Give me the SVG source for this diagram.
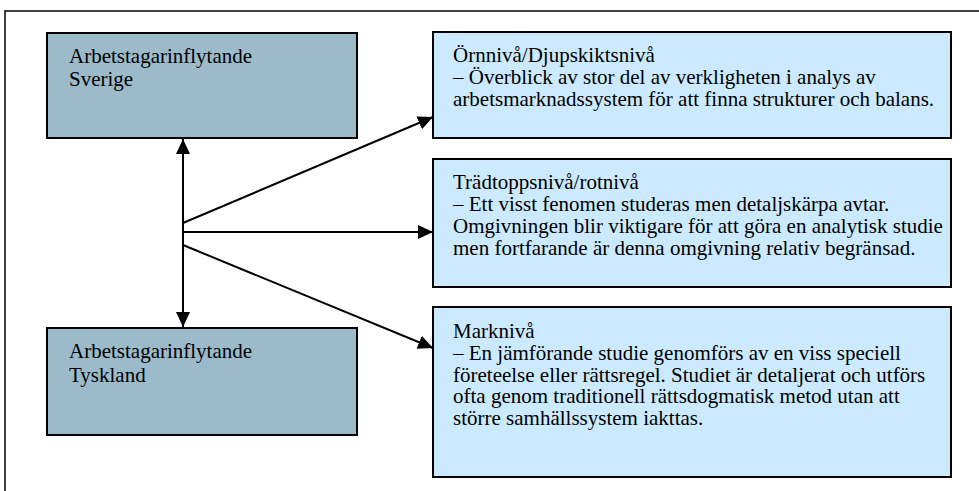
<svg xmlns="http://www.w3.org/2000/svg" width="979" height="491" viewBox="0 0 979 491">
<defs>
<marker id="ah" markerUnits="userSpaceOnUse" markerWidth="16" markerHeight="14" refX="15" refY="7" orient="auto-start-reverse" viewBox="0 0 16 14">
<path d="M0,0 L15,7 L0,14 Z" fill="#000"/>
</marker>
</defs>
<rect width="979" height="491" fill="#fff"/>
<path d="M5,495 L5,11 L985,11" fill="none" stroke="#000" stroke-width="1.5"/>
<g id="sverige">
<rect x="47" y="33" width="310" height="105" fill="#9BBBCB" stroke="#000" stroke-width="2"/>
<text x="69" y="63" style="font-family:'Liberation Serif',Tinos,serif;font-size:21px">Arbetstagarinflytande</text>
<text x="69" y="86" style="font-family:'Liberation Serif',Tinos,serif;font-size:21px">Sverige</text>
</g>
<g id="tyskland">
<rect x="47" y="328" width="310" height="107" fill="#9BBBCB" stroke="#000" stroke-width="2"/>
<text x="69" y="358" style="font-family:'Liberation Serif',Tinos,serif;font-size:21px">Arbetstagarinflytande</text>
<text x="69" y="382" style="font-family:'Liberation Serif',Tinos,serif;font-size:21px">Tyskland</text>
</g>
<g id="ornniva">
<rect x="433" y="32" width="518" height="106" fill="#CCEAFF" stroke="#000" stroke-width="2"/>
<text x="453" y="62" style="font-family:'Liberation Serif',Tinos,serif;font-size:21px">Örnnivå/Djupskiktsnivå</text>
<text x="453" y="84" style="font-family:'Liberation Serif',Tinos,serif;font-size:21px">– Överblick av stor del av verkligheten i analys av</text>
<text x="453" y="106" style="font-family:'Liberation Serif',Tinos,serif;font-size:21px">arbetsmarknadssystem för att finna strukturer och balans.</text>
</g>
<g id="tradtopp">
<rect x="433" y="159" width="518" height="128" fill="#CCEAFF" stroke="#000" stroke-width="2"/>
<text x="453" y="189" style="font-family:'Liberation Serif',Tinos,serif;font-size:21px">Trädtoppsnivå/rotnivå</text>
<text x="453" y="211" style="font-family:'Liberation Serif',Tinos,serif;font-size:21px">– Ett visst fenomen studeras men detaljskärpa avtar.</text>
<text x="453" y="233" style="font-family:'Liberation Serif',Tinos,serif;font-size:21px">Omgivningen blir viktigare för att göra en analytisk studie</text>
<text x="453" y="255" style="font-family:'Liberation Serif',Tinos,serif;font-size:21px">men fortfarande är denna omgivning relativ begränsad.</text>
</g>
<g id="markniva">
<rect x="433" y="307" width="518" height="170" fill="#CCEAFF" stroke="#000" stroke-width="2"/>
<text x="453" y="338" style="font-family:'Liberation Serif',Tinos,serif;font-size:21px">Marknivå</text>
<text x="453" y="360" style="font-family:'Liberation Serif',Tinos,serif;font-size:21px">– En jämförande studie genomförs av en viss speciell</text>
<text x="453" y="382" style="font-family:'Liberation Serif',Tinos,serif;font-size:21px">företeelse eller rättsregel. Studiet är detaljerat och utförs</text>
<text x="453" y="403" style="font-family:'Liberation Serif',Tinos,serif;font-size:21px">ofta genom traditionell rättsdogmatisk metod utan att</text>
<text x="453" y="425" style="font-family:'Liberation Serif',Tinos,serif;font-size:21px">större samhällssystem iakttas.</text>
</g>
<g id="connectors" fill="none" stroke="#000" stroke-width="2">
<line x1="183" y1="139" x2="183" y2="327" marker-start="url(#ah)" marker-end="url(#ah)"/>
<line x1="183" y1="223" x2="433" y2="117" marker-end="url(#ah)"/>
<line x1="183" y1="232" x2="433" y2="232" marker-end="url(#ah)"/>
<line x1="183" y1="245" x2="433" y2="348" marker-end="url(#ah)"/>
</g>
</svg>
